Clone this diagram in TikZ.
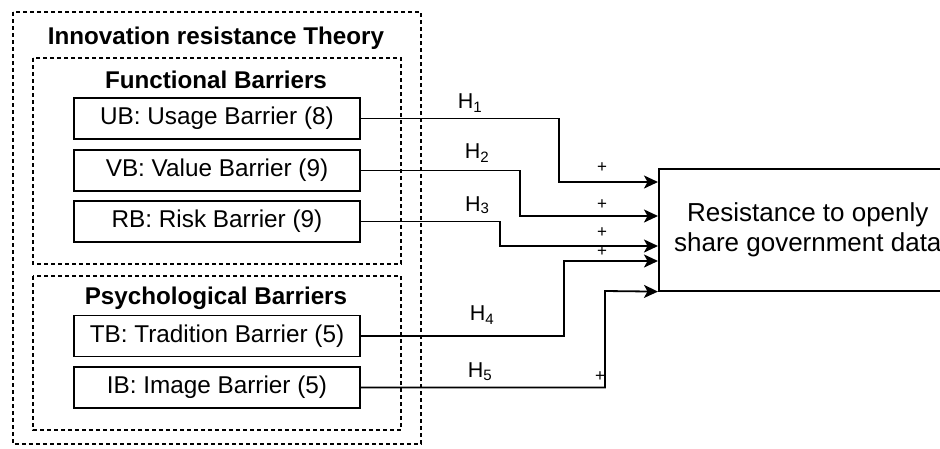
\documentclass[tikz,border=0pt]{standalone}
\usepackage{fontspec}
\setmainfont{Liberation Sans}
\usetikzlibrary{arrows.meta}
\tikzset{
  barrier/.style={draw, line width=1.6pt, minimum width=286pt, minimum height=41pt, inner sep=0pt, font=\fontsize{24.3}{27}\selectfont},
  group/.style={draw, line width=1.3pt, dash pattern=on 4pt off 3pt},
  ttl/.style={font=\fontsize{24.2}{27}\selectfont\bfseries, inner sep=0pt},
  conn/.style={line width=1.8pt, -{Stealth[length=14pt,width=13pt,inset=3.5pt]}},
  hlab/.style={font=\fontsize{21.5}{24}\selectfont, inner sep=0pt},
  plus/.style={font=\fontsize{17}{18}\selectfont, inner sep=0pt},
}
\begin{document}
\begin{tikzpicture}[x=1pt,y=-1pt]
\useasboundingbox (0,0) rectangle (940,448);
\clip (0,0) rectangle (940,448);
\fill[white] (0,0) rectangle (940,448);
% groups
\draw[group] (13,12) rectangle (421,444);
\draw[group] (33,58) rectangle (401,264);
\draw[group] (33,276) rectangle (401,430);
\node[ttl] (tirt) at (216,38) {Innovation resistance Theory};
\node[ttl] (tfun) at (216,80) {Functional Barriers};
\node[ttl] (tpsy) at (216,298) {Psychological Barriers};
% barriers
\node[barrier] (ub) at (217,118.5) {UB: Usage Barrier (8)};
\node[barrier] (vb) at (217,170.5) {VB: Value Barrier (9)};
\node[barrier] (rb) at (217,221.5) {RB: Risk Barrier (9)};
\node[barrier] (tb) at (217,336) {TB: Tradition Barrier (5)};
\node[barrier] (ib) at (217,387.5) {IB: Image Barrier (5)};
% target
\node[draw, line width=1.6pt, minimum width=298pt, minimum height=122pt, inner sep=0pt, anchor=north west, font=\fontsize{26}{30}\selectfont, align=center] (tgt) at (658,168) {Resistance to openly\\share government data};
% connectors
\draw[conn] (ub.east) -| (559,182) -- ([yshift=-14pt]tgt.north west);
\draw[conn] (vb.east) -| (520,216) -- ([yshift=-48pt]tgt.north west);
\draw[conn] (rb.east) -| (500,246) -- ([yshift=-78pt]tgt.north west);
\draw[conn] (tb.east) -| (564,261) -- ([yshift=-93pt]tgt.north west);
\draw[conn] (ib.east) -| (605,291) -- (tgt.south west);
% labels
\node[hlab] (h1) at (470,103) {H\textsubscript{1}};
\node[hlab] (h2) at (477,153) {H\textsubscript{2}};
\node[hlab] (h3) at (477,205) {H\raisebox{-0.15ex}{\fontsize{15}{16}\selectfont 3}};
\node[hlab] (h4) at (482,315) {H\textsubscript{4}};
\node[hlab] (h5) at (480,372) {H\textsubscript{5}};
\node[plus] (p1) at (602,168) {+};
\node[plus] (p2) at (602,205) {+};
\node[plus] (p3) at (602,233) {+};
\node[plus] (p4) at (602,252) {+};
\node[plus] (p5) at (600,377) {+};
\end{tikzpicture}
\end{document}
